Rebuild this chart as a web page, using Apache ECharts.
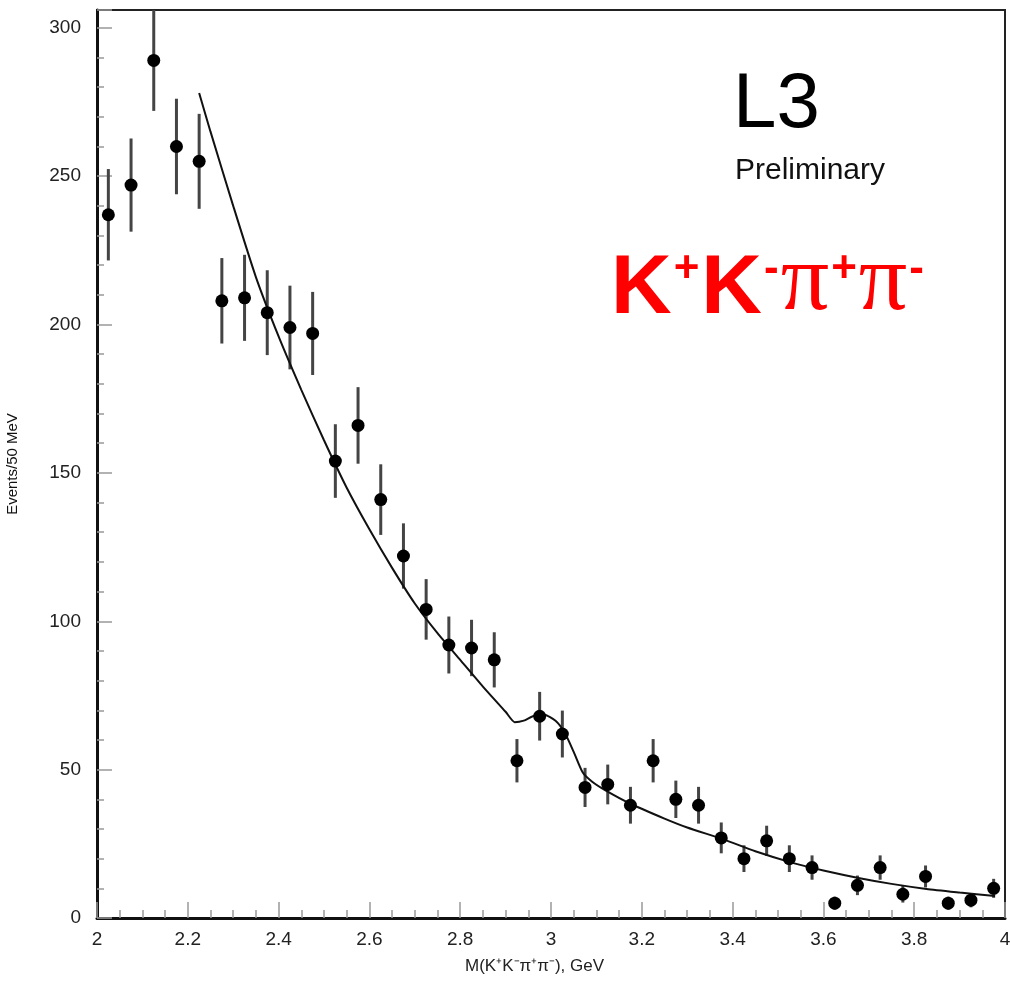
<!DOCTYPE html>
<html>
<head>
<meta charset="utf-8">
<script src="https://cdn.jsdelivr.net/npm/echarts@6/dist/echarts.min.js"></script>
<style>
html,body{margin:0;padding:0;background:#fff;}
#main{width:1010px;height:986px;}
</style>
</head>
<body>
<div id="main"></div>
<script>
// Bin centres (GeV) of the 50 MeV bins
const binCenters = [2.025,2.075,2.125,2.175,2.225,2.275,2.325,2.375,2.425,2.475,
  2.525,2.575,2.625,2.675,2.725,2.775,2.825,2.875,2.925,2.975,
  3.025,3.075,3.125,3.175,3.225,3.275,3.325,3.375,3.425,3.475,
  3.525,3.575,3.625,3.675,3.725,3.775,3.825,3.875,3.925,3.975];
// Events per bin
const counts = [237,247,289,260,255,208,209,204,199,197,
  154,166,141,122,104,92,91,87,53,68,
  62,44,45,38,53,40,38,27,20,26,
  20,17,5,11,17,8,14,5,6,10];
// Error bar half-lengths
const errors = [15.4,15.7,17.0,16.1,16.0,14.4,14.5,14.3,14.1,14.0,
  12.4,12.9,11.9,11.0,10.2,9.6,9.5,9.3,7.3,8.2,
  7.9,6.6,6.7,6.2,7.3,6.3,6.2,5.2,4.5,5.1,
  4.5,4.1,2.2,3.3,4.1,2.8,3.7,2.2,2.4,3.2];
// Fit curve
const fitX = [2.225,2.25,2.3,2.35,2.4,2.45,2.5,2.55,2.6,2.65,2.7,2.75,2.8,2.85,2.9,2.92,2.94,2.96,2.985,3.01,3.03,3.05,3.07,3.09,3.12,3.175,3.25,3.3,3.38,3.45,3.534,3.6,3.68,3.75,3.827,3.9,3.978];
const fitY = [278,265,240,216,196,178,161,145,131,118,106,96,87,78,69.5,66,66.5,68,68.5,66.5,62.5,56,49,46,43,38.5,33.5,30.5,26.5,22.5,18.5,16,13.4,11.5,9.8,8.6,7.4];

const FONT = '"Liberation Sans", Arial, Helvetica, sans-serif';

const pointData = binCenters.map((x, i) => [x, counts[i]]);
const errData = binCenters.map((x, i) => [x, counts[i] - errors[i], counts[i] + errors[i]]);
const fitData = fitX.map((x, i) => [x, fitY[i]]);

const chart = echarts.init(document.getElementById('main'), null, {renderer: 'canvas'});
chart.setOption({
  backgroundColor: '#ffffff',
  animation: false,
  grid: {left: 97, right: 5, top: 10, bottom: 68, show: true, borderColor: '#222', borderWidth: 2,
    backgroundColor: 'transparent', containLabel: false, outerBoundsMode: 'none'},
  xAxis: {
    type: 'value', min: 2, max: 4, interval: 0.2,
    axisLine: {show: true, onZero: false, lineStyle: {color: '#111', width: 3}},
    axisTick: {show: true, inside: true, length: 16, lineStyle: {color: '#999', width: 1.5}},
    minorTick: {show: true, splitNumber: 4, length: 8, lineStyle: {color: '#999', width: 1.5}},
    splitLine: {show: false},
    axisLabel: {color: '#222', fontSize: 19, fontFamily: FONT, margin: 12},
    name: ''
  },
  yAxis: {
    type: 'value', min: 0, max: 306, interval: 50,
    axisLine: {show: true, lineStyle: {color: '#111', width: 3}},
    axisTick: {show: true, inside: true, length: 15, lineStyle: {color: '#999', width: 1.5}},
    minorTick: {show: true, splitNumber: 5, length: 7, lineStyle: {color: '#999', width: 1.5}},
    splitLine: {show: false},
    axisLabel: {color: '#222', fontSize: 19, fontFamily: FONT, margin: 16, showMaxLabel: false},
    name: 'Events/50 MeV', nameLocation: 'middle', nameGap: 77, nameRotate: 90,
    nameTextStyle: {color: '#111', fontSize: 15, fontFamily: FONT}
  },
  series: [
    {
      type: 'custom',
      clip: true,
      renderItem: function (params, api) {
        const x = api.value(0);
        const p1 = api.coord([x, api.value(1)]);
        const p2 = api.coord([x, api.value(2)]);
        return {
          type: 'line',
          shape: {x1: p1[0], y1: p1[1], x2: p2[0], y2: p2[1]},
          style: {stroke: '#444', lineWidth: 3}
        };
      },
      data: errData,
      z: 2
    },
    {
      type: 'line',
      data: fitData,
      showSymbol: false,
      smooth: 0.2,
      lineStyle: {color: '#111', width: 2},
      z: 3
    },
    {
      type: 'scatter',
      data: pointData,
      symbol: 'circle',
      symbolSize: 13,
      itemStyle: {color: '#000', opacity: 1},
      z: 4
    }
  ],
  graphic: [
    {type: 'text', left: 733, top: 66, style: {text: 'L3', font: '78px ' + FONT, fill: '#000'}},
    {type: 'text', left: 735, top: 156, style: {text: 'Preliminary', font: '30px ' + FONT, fill: '#111'}},
    {type: 'text', left: 611, top: 236,
      style: {
        text: '{k|K}{s|+}{k|K}{m|-}{p|π}{s|+}{p|π}{m|-}',
        rich: {
          k: {fontFamily: FONT, fontWeight: 'bold', fontSize: 84, fill: '#ff0000', color: '#ff0000', verticalAlign: 'bottom', lineHeight: 90},
          s: {fontFamily: FONT, fontWeight: 'bold', fontSize: 44, fill: '#ff0000', color: '#ff0000', verticalAlign: 'top', lineHeight: 50, padding: [6, 2, 0, 2]},
          m: {fontFamily: FONT, fontWeight: 'bold', fontSize: 44, fill: '#ff0000', color: '#ff0000', verticalAlign: 'top', lineHeight: 50, padding: [6, 2, 0, 2]},
          p: {fontFamily: '"Liberation Serif", "DejaVu Serif", serif', fontSize: 96, fill: '#ff0000', color: '#ff0000', verticalAlign: 'bottom', lineHeight: 90}
        }
      }
    },
    {type: 'text', left: 465, top: 958, style: {text: 'M(K⁺K⁻π⁺π⁻), GeV', font: '17px ' + FONT, fill: '#222'}}
  ]
});
</script>
</body>
</html>
